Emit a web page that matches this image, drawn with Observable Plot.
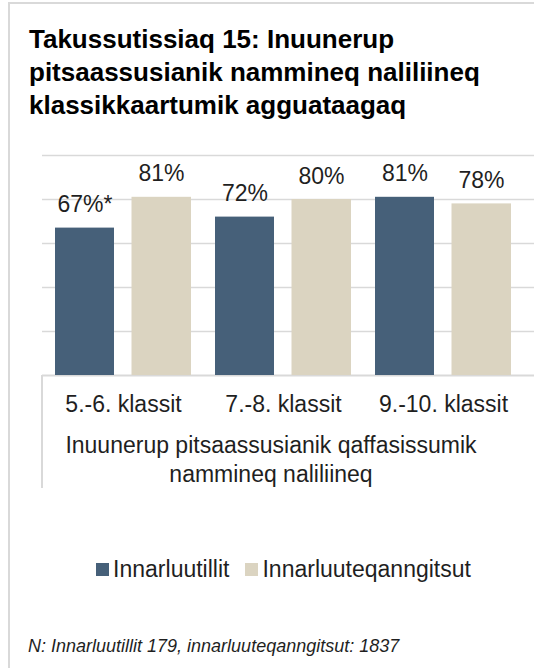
<!DOCTYPE html>
<html>
<head>
<meta charset="utf-8">
<script src="https://cdn.jsdelivr.net/npm/d3@7"></script>
<script src="https://cdn.jsdelivr.net/npm/@observablehq/plot@0.6"></script>
<style>
  html, body { margin: 0; padding: 0; background: #fff; }
  body { width: 534px; height: 668px; position: relative; overflow: hidden; font-family: "Liberation Sans", Arial, sans-serif; }
  .panel { position: absolute; left: 8px; top: 2px; width: 600px; height: 700px; border-left: 2px solid #d9d9d9; border-top: 2px solid #d9d9d9; }
  .title { position: absolute; left: 29px; top: 23px; font-weight: bold; font-size: 26px; line-height: 33px; color: #000; white-space: nowrap; }
  #chart { position: absolute; left: 0; top: 140px; }
  .axisbox { position: absolute; left: 41px; top: 375px; height: 113px; border-left: 2px solid #d9d9d9; }
  .axistitle { position: absolute; left: 8px; width: 526px; top: 431px; text-align: center; font-size: 23px; line-height: 29px; color: #1f1f1f; }
  .legend { position: absolute; left: 42px; width: 483px; top: 556px; display: flex; justify-content: center; align-items: center; font-size: 23px; color: #1f1f1f; }
  .legend .item { display: flex; align-items: center; margin: 0 8px; }
  .legend .sw { width: 13px; height: 13px; margin-right: 4px; }
  .foot { position: absolute; left: 28px; top: 636px; font-style: italic; font-size: 18px; line-height: 20px; color: #1f1f1f; white-space: nowrap; }
</style>
</head>
<body>
<div class="panel"></div>
<div class="title">Takussutissiaq 15: Inuunerup<br>pitsaassusianik nammineq naliliineq<br>klassikkaartumik agguataagaq</div>
<div id="chart"></div>
<div class="axisbox"></div>
<div class="axistitle">Inuunerup pitsaassusianik qaffasissumik<br>nammineq naliliineq</div>
<div class="legend" id="legend"></div>
<div class="foot">N: Innarluutillit 179, innarluuteqanngitsut: 1837</div>
<script>
const groups = ["5.-6. klassit", "7.-8. klassit", "9.-10. klassit"];
const seriesNames = ["Innarluutillit", "Innarluuteqanngitsut"];
const seriesColors = ["#466079", "#dbd4c1"];
const disabled = [67, 72, 81];
const notDisabled = [81, 80, 78];
const disabledNotes = ["*", "", ""];
const yTicks = [0, 20, 40, 60, 80, 100];

const rowsA = groups.map((g, i) => ({group: g, value: disabled[i], label: disabled[i] + "%" + disabledNotes[i]}));
const rowsB = groups.map((g, i) => ({group: g, value: notDisabled[i], label: notDisabled[i] + "%"}));

const chart = Plot.plot({
  width: 534,
  height: 300,
  marginLeft: 42,
  marginRight: 0,
  marginTop: 15,
  marginBottom: 65,
  style: {fontFamily: "'Liberation Sans', Arial, sans-serif", fontSize: "23px", color: "#1f1f1f", background: "transparent", overflow: "visible"},
  x: {type: "band", domain: groups, paddingInner: 0.149, paddingOuter: 0.1025, align: 0.364, label: null},
  y: {domain: [0, 100], label: null},
  marks: [
    Plot.gridY(yTicks.filter(d => d > 0), {stroke: "#d9d9d9", strokeOpacity: 1, strokeWidth: 1.6}),
    Plot.ruleY([0], {stroke: "#d9d9d9", strokeWidth: 2}),
    Plot.barY(rowsA, {x: "group", y: "value", fill: seriesColors[0], insetLeft: 0, insetRight: 77}),
    Plot.barY(rowsB, {x: "group", y: "value", fill: seriesColors[1], insetLeft: 76.5, insetRight: 0}),
    Plot.text(rowsA, {x: "group", y: "value", text: "label", dx: -38.5, dy: -16, lineAnchor: "bottom", fill: "#1f1f1f", fontSize: 23}),
    Plot.text(rowsB, {x: "group", y: "value", text: "label", dx: 38, dy: -16, lineAnchor: "bottom", fill: "#1f1f1f", fontSize: 23}),
    Plot.axisX({tickSize: 0, tickPadding: 20, fill: "#1f1f1f", fontSize: 23, label: null}),
    Plot.axisY({ticks: [], label: null, tickSize: 0})
  ]
});
document.getElementById("chart").appendChild(chart);

const legend = document.getElementById("legend");
seriesNames.forEach((name, i) => {
  const item = document.createElement("div");
  item.className = "item";
  const sw = document.createElement("div");
  sw.className = "sw";
  sw.style.background = seriesColors[i];
  const t = document.createElement("span");
  t.textContent = name;
  item.appendChild(sw);
  item.appendChild(t);
  legend.appendChild(item);
});
</script>
</body>
</html>
